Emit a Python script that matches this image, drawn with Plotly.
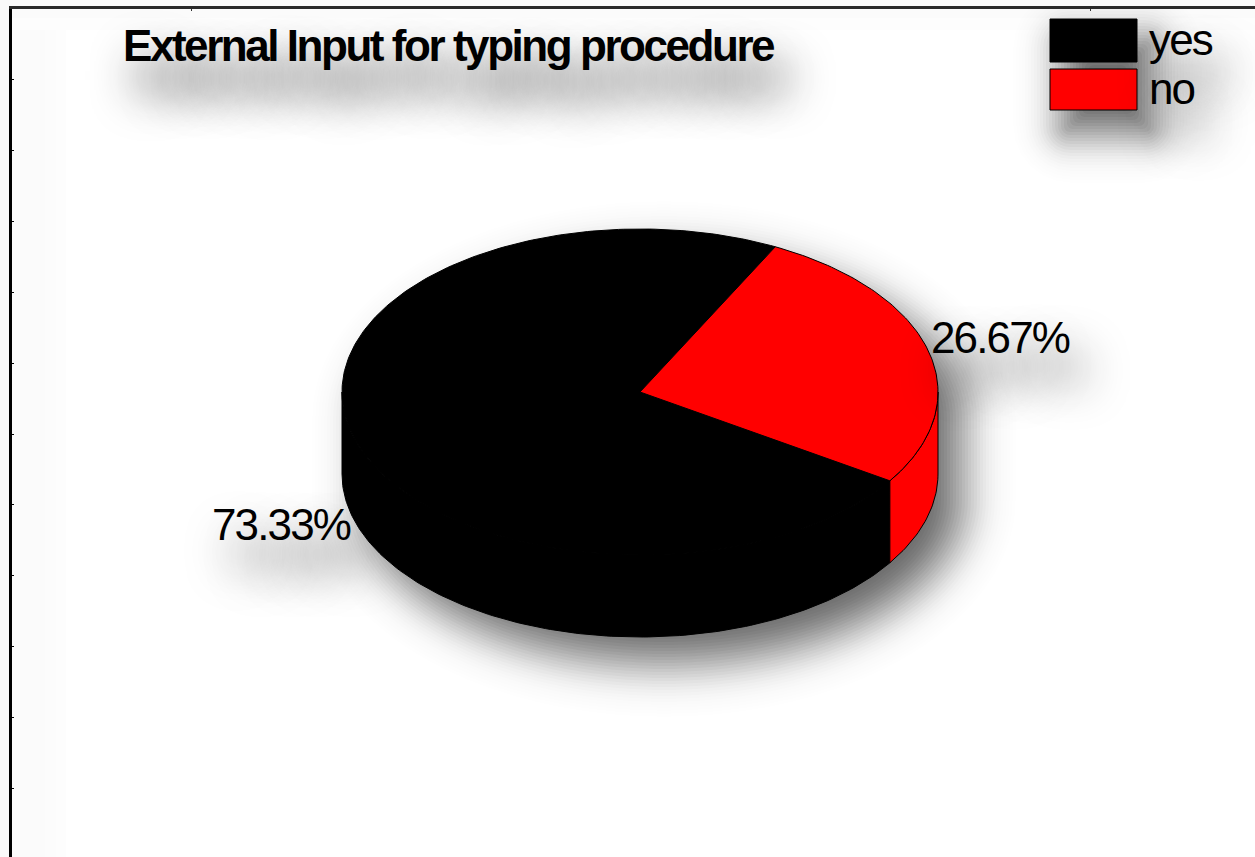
import math
import plotly.graph_objects as go

# ---- data ----
categories = ["yes", "no"]
percent_values = [73.33, 26.67]
slice_colors = ["#000000", "#ff0000"]
title_text = "External Input for typing procedure"
x_tick_positions = [191, 1090]
y_tick_positions = [79, 150, 221, 292, 363, 434, 504, 575, 646, 717, 788]

# ---- layout geometry (pixels: axes map 1:1 to the page) ----
W, H = 1255, 857
CX, CY, RX, RY, DEPTH = 640, 392, 298, 163, 82
START_DEG = 27.0  # clockwise from 12 o'clock where "no" begins


def norm_cdf(z):
    return 0.5 * (1 + math.erf(z / math.sqrt(2)))


def pt(deg, dy=0.0):
    a = math.radians(deg)
    return CX + RX * math.sin(a), CY - RY * math.cos(a) + dy


def arc(a0, a1, dy=0.0, step=1.0):
    n = max(2, int(abs(a1 - a0) / step))
    return [pt(a0 + (a1 - a0) * i / n, dy) for i in range(n + 1)]


def path(points):
    return "M" + "L".join(f"{x:.2f},{y:.2f}" for x, y in points) + "Z"


def pie_silhouette(d, ox, oy):
    rx, ry = RX + d, RY + d
    pts = []
    for i in range(181):
        t = math.radians(270 + i)
        pts.append((CX + ox + rx * math.sin(t), CY + oy - ry * math.cos(t)))
    for i in range(181):
        t = math.radians(90 + i)
        pts.append((CX + ox + rx * math.sin(t), CY + oy + DEPTH - ry * math.cos(t)))
    return pts


def rect_silhouette(x0, y0, x1, y1, d, ox, oy):
    r = max(d, 0) + 6
    xa, xb, ya, yb = x0 - d, x1 + d, y0 - d, y1 + d
    r = min(r, (xb - xa) / 2, (yb - ya) / 2)
    pts = []
    for (cx, cy, s) in [(xb - r, ya + r, 0), (xb - r, yb - r, 90), (xa + r, yb - r, 180), (xa + r, ya + r, 270)]:
        for i in range(0, 91, 15):
            t = math.radians(s + i)
            pts.append((cx + r * math.sin(t) + ox, cy - r * math.cos(t) + oy))
    return pts


def blur_shapes(silhouette, sigma, peak, dmin, dmax, step):
    shapes, prev, d = [], 0.0, dmax
    while d >= dmin:
        target = peak * norm_cdf(-d / sigma)
        alpha = 1 - (1 - target) / (1 - prev)
        prev = target
        shapes.append(dict(type="path", path=path(silhouette(d)), layer="below",
                           fillcolor=f"rgba(0,0,0,{alpha:.4f})", line=dict(width=0)))
        d -= step
    return shapes


def band(x0, y0, x1, y1, col):
    return dict(type="rect", x0=x0, y0=y0, x1=x1, y1=y1, layer="below", fillcolor=col, line=dict(width=0))


# slice angles come from the values
sweep_no = percent_values[1] / 100 * 360
no_start, no_end = START_DEG, START_DEG + sweep_no
yes_start, yes_end = no_end, START_DEG + 360

fig = go.Figure()
edge = dict(color="#000000", width=1)


def add_poly(points, color, name):
    fig.add_trace(go.Scatter(x=[p[0] for p in points] + [points[0][0]],
                             y=[p[1] for p in points] + [points[0][1]],
                             mode="lines", fill="toself", fillcolor=color, line=edge,
                             name=name, showlegend=False, hoverinfo="skip"))


# side walls (only the front half of the cylinder shows)
add_poly(arc(max(yes_start, 90), 270) + arc(270, max(yes_start, 90), DEPTH), slice_colors[0], categories[0])
add_poly(arc(90, no_end) + arc(no_end, 90, DEPTH), slice_colors[1], categories[1])
# top faces
add_poly([(CX, CY)] + arc(yes_start, yes_end), slice_colors[0], categories[0])
add_poly([(CX, CY)] + arc(no_start, no_end), slice_colors[1], categories[1])

# shapes: faint page bands, then soft shadows, then legend swatches
shapes = [
    band(12, 9, 66, H, "#fdfdfd"), band(12, 9, 56, H, "#fcfcfc"), band(12, 9, 45, H, "#fbfbfb"),
    band(12, 9, W, 30, "#fdfdfd"), band(12, 9, W, 18, "#fbfbfb"),
]
shapes += blur_shapes(lambda d: pie_silhouette(d, 24, 26), 24, 0.58, -72, 78, 3)
LEG_X0, LEG_X1 = 1050, 1137
LEG_ROWS = [(19, 62), (69, 110)]
shapes += blur_shapes(lambda d: rect_silhouette(LEG_X0, LEG_ROWS[0][0], LEG_X1, LEG_ROWS[1][1], d, 14, 22),
                      23, 0.64, -40, 69, 3)
for (y0, y1), col in zip(LEG_ROWS, slice_colors):
    shapes.append(dict(type="rect", x0=LEG_X0, x1=LEG_X1, y0=y0, y1=y1, layer="above",
                       fillcolor=col, line=dict(color="#000000", width=1)))

FONT = "Liberation Sans, Arial, sans-serif"
SHADOW = "14px 30px 46px rgba(0,0,0,0.9)"


def note(text, x, y):
    return dict(text=text, x=x, y=y, xref="x", yref="y", xanchor="left", yanchor="middle",
                align="left", showarrow=False, borderpad=0,
                font=dict(family=FONT, size=44, color="#000000", shadow=SHADOW))


annotations = [
    note(f"{percent_values[1]:.2f}%", 930, 337),
    note(f"{percent_values[0]:.2f}%", 211, 524),
    note(categories[0], 1148, 39),
    note(categories[1], 1148, 88),
]

fig.update_layout(
    width=W, height=H, autosize=False,
    margin=dict(l=12, r=0, t=9, b=0, pad=0),
    paper_bgcolor="#fafafa", plot_bgcolor="#ffffff", showlegend=False,
    title=dict(text=title_text, xref="container", yref="container", x=123 / W, y=1 - 46 / H,
               xanchor="left", yanchor="middle",
               font=dict(family=FONT, size=44, color="#000000", weight="bold", shadow=SHADOW)),
    xaxis=dict(range=[12, W], side="top", showgrid=False, zeroline=False, showline=True,
               linecolor="#2a2a2a", linewidth=3, ticks="inside", ticklen=2, tickcolor="#333333",
               tickvals=x_tick_positions, showticklabels=False, fixedrange=True),
    yaxis=dict(range=[H, 9], showgrid=False, zeroline=False, showline=True,
               linecolor="#000000", linewidth=3, ticks="inside", ticklen=2, tickcolor="#000000",
               tickvals=y_tick_positions, showticklabels=False, fixedrange=True),
    shapes=shapes, annotations=annotations,
)

post = """
document.body.style.margin = '0';
var s = document.createElement('style');
s.textContent = '.annotation-text { letter-spacing: -1.85px; } .gtitle { letter-spacing: -2.45px; }';
document.head.appendChild(s);
"""
fig.write_html("out.html", post_script=post, config={"displayModeBar": False})
